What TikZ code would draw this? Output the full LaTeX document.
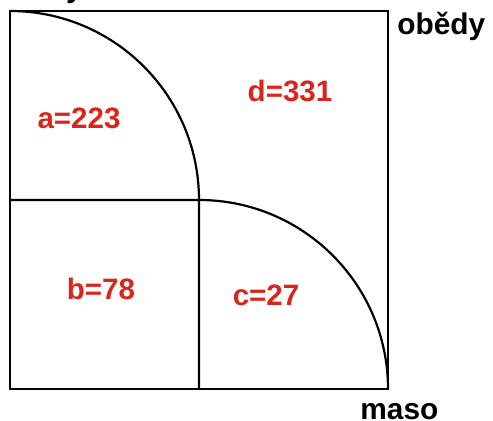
\documentclass[tikz,border=0pt]{standalone}
\usepackage{fontspec}
\setmainfont{Liberation Sans}
\definecolor{numred}{RGB}{218,37,29}

\begin{document}
\begin{tikzpicture}[x=.02cm,y=.02cm]
\path[use as bounding box] (0,0) rectangle (493,421);
\tikzset{set/.style={line width=1.25pt},
  count/.style={text=numred,inner sep=0pt,font=\bfseries\fontsize{16.8}{19}\selectfont},
  axis/.style={inner sep=0pt,font=\bfseries\fontsize{17}{19}\selectfont}}
% outer square
\draw[set] (10,32) rectangle (388,410);
% first set: quarter circle, then down
\draw[set] (10,410) arc[start angle=90,end angle=0,radius=189] -- (199,32);
% second set: across, then quarter circle
\draw[set] (10,221) -- (199,221) arc[start angle=90,end angle=0,radius=189];
\node[count] (a) at (79,303) {a=223};
\node[count] (d) at (290,330) {d=331};
\node[count] (b) at (101,132) {b=78};
\node[count] (c) at (266,126) {c=27};
\node[axis,anchor=base west] (obedy) at (397,386) {obědy};
\node[axis,anchor=base west] (maso) at (360,1) {maso};
\node[axis,anchor=base east] (salaty) at (83,423) {saláty};
\end{tikzpicture}
\end{document}
